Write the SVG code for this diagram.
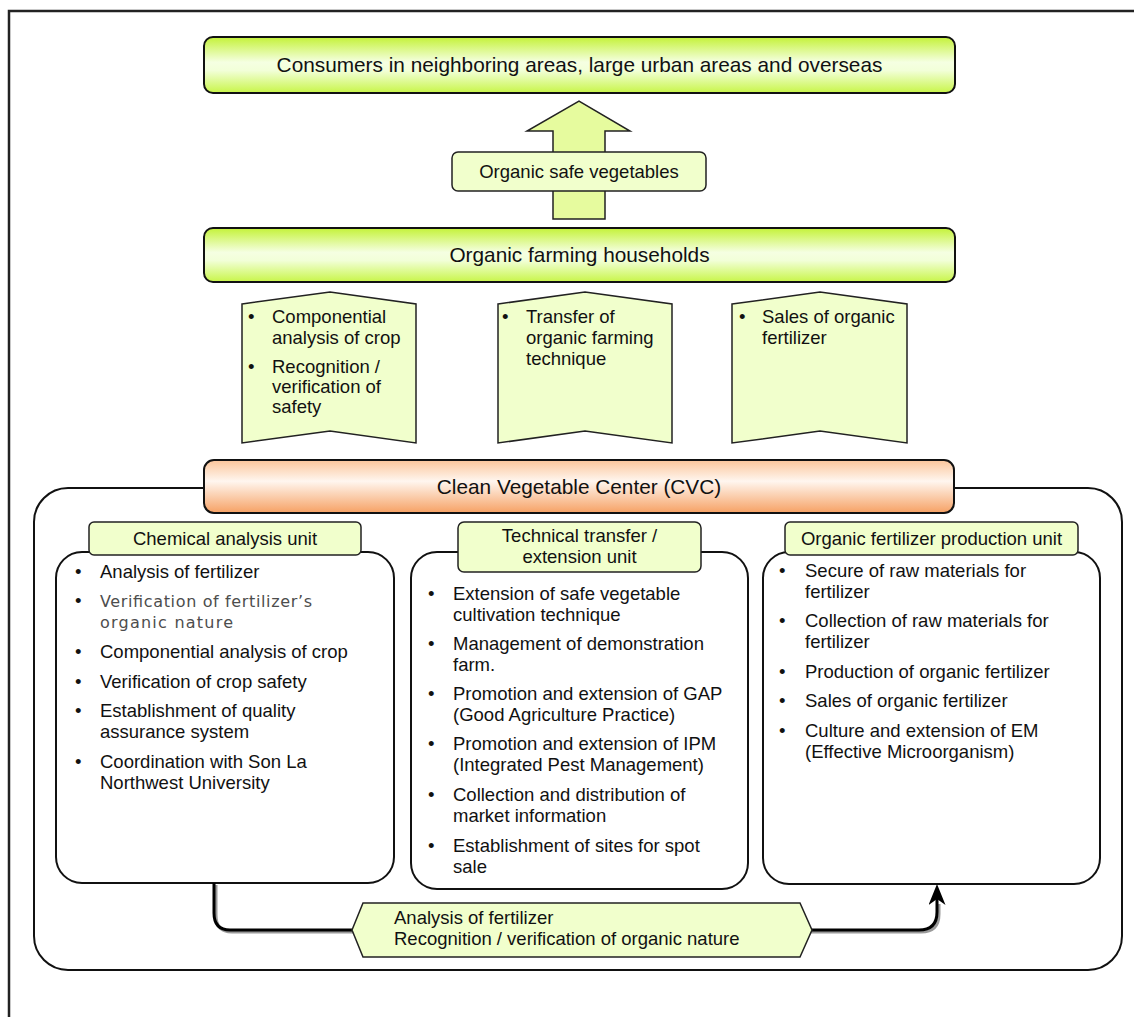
<svg xmlns="http://www.w3.org/2000/svg" width="1134" height="1017" viewBox="0 0 1134 1017">
  <defs>
    <linearGradient id="limeBand" x1="0" y1="0" x2="0" y2="1">
      <stop offset="0" stop-color="#c4f238"/>
      <stop offset="0.45" stop-color="#f5ffe2"/>
      <stop offset="0.6" stop-color="#f2ffd8"/>
      <stop offset="1" stop-color="#c8f548"/>
    </linearGradient>
    <linearGradient id="orangeBand" x1="0" y1="0" x2="0" y2="1">
      <stop offset="0" stop-color="#fbc59a"/>
      <stop offset="0.4" stop-color="#fff6ef"/>
      <stop offset="1" stop-color="#f6a164"/>
    </linearGradient>
    <marker id="arrowHead" markerUnits="userSpaceOnUse" markerWidth="21" markerHeight="17" viewBox="0 0 21 17" refX="12" refY="8.5" orient="auto">
      <path d="M21,8.5 L0,0 L6,8.5 L0,17 Z" fill="#000"/>
    </marker>
    <style>
      text { font-family: "Liberation Sans", Arial, sans-serif; fill: #111; }
      .big { font-size: 20.8px; text-anchor: middle; }
      .body { font-size: 18.5px; }
      .mid { text-anchor: middle; }
      .soft { font-family: "DejaVu Sans", sans-serif; font-size: 16px; fill: #4d4d4d; }
      .band { stroke: #111; stroke-width: 2; }
      .pale { fill: #f1ffcc; stroke: #222; stroke-width: 1.5; }
      .unit { fill: #fff; stroke: #111; stroke-width: 2; }
    </style>
  </defs>

  <!-- page frame -->
  <rect x="9" y="11" width="1140" height="1020" fill="#fff" stroke="#222" stroke-width="2.5"/>

  <!-- CVC enclosure -->
  <g id="cvc-enclosure">
    <rect x="34" y="488" width="1088" height="482" rx="34" fill="none" stroke="#111" stroke-width="2"/>
  </g>

  <g id="consumers">
    <rect class="band" x="204" y="37" width="751" height="56" rx="9" fill="url(#limeBand)"/>
    <text class="big" x="579.5" y="72">Consumers in neighboring areas, large urban areas and overseas</text>
  </g>

  <g id="product-flow">
    <path d="M553,219 L553,131 L527,131 L579,101 L630,131 L605,131 L605,219 Z" fill="#e6fb9e" stroke="#222" stroke-width="1.5"/>
    <rect class="pale" x="452" y="152" width="254" height="39" rx="6"/>
    <text class="body mid" x="579" y="178">Organic safe vegetables</text>
  </g>

  <g id="households">
    <rect class="band" x="204" y="228" width="751" height="54" rx="9" fill="url(#limeBand)"/>
    <text class="big" x="579.5" y="262">Organic farming households</text>
  </g>

  <g id="service-crop">
    <path class="pale" d="M242,304 L330,292 L416,304 L416,443 L330,431 L242,443 Z"/>
    <text class="body" x="248" y="323">•</text>
    <text class="body" x="272" y="323">Componential</text>
    <text class="body" x="272" y="344">analysis of crop</text>
    <text class="body" x="248" y="373">•</text>
    <text class="body" x="272" y="373">Recognition /</text>
    <text class="body" x="272" y="393">verification of</text>
    <text class="body" x="272" y="413">safety</text>
  </g>

  <g id="service-technique">
    <path class="pale" d="M498,304 L585,292 L672,304 L672,443 L585,431 L498,443 Z"/>
    <text class="body" x="502" y="323">•</text>
    <text class="body" x="526" y="323">Transfer of</text>
    <text class="body" x="526" y="344">organic farming</text>
    <text class="body" x="526" y="365">technique</text>
  </g>

  <g id="service-fertilizer">
    <path class="pale" d="M732,304 L820,292 L907,304 L907,443 L820,431 L732,443 Z"/>
    <text class="body" x="739" y="323">•</text>
    <text class="body" x="762" y="323">Sales of organic</text>
    <text class="body" x="762" y="344">fertilizer</text>
  </g>

  <g id="cvc">
    <rect class="band" x="204" y="460" width="750" height="53" rx="10" fill="url(#orangeBand)"/>
    <text class="big" x="579" y="494">Clean Vegetable Center (CVC)</text>
  </g>

  <g id="chemical-unit">
    <rect class="unit" x="56" y="552" width="338" height="331" rx="26"/>
    <rect class="pale" x="89" y="522" width="272" height="33" rx="5"/>
    <text class="body mid" x="225" y="545">Chemical analysis unit</text>
    <text class="body" x="75" y="578">•</text>
    <text class="body" x="100" y="578">Analysis of fertilizer</text>
    <text class="body" x="75" y="607">•</text>
    <text class="soft" x="100" y="607" textLength="212">Verification of fertilizer’s</text>
    <text class="soft" x="100" y="628" textLength="133">organic nature</text>
    <text class="body" x="75" y="658">•</text>
    <text class="body" x="100" y="658">Componential analysis of crop</text>
    <text class="body" x="75" y="688">•</text>
    <text class="body" x="100" y="688">Verification of crop safety</text>
    <text class="body" x="75" y="717">•</text>
    <text class="body" x="100" y="717">Establishment of quality</text>
    <text class="body" x="100" y="738">assurance system</text>
    <text class="body" x="75" y="768">•</text>
    <text class="body" x="100" y="768">Coordination with Son La</text>
    <text class="body" x="100" y="789">Northwest University</text>
  </g>

  <g id="technical-unit">
    <rect class="unit" x="411" y="552" width="337" height="337" rx="26"/>
    <rect class="pale" x="458" y="522" width="243" height="50" rx="6"/>
    <text class="body mid" x="579.5" y="542">Technical transfer /</text>
    <text class="body mid" x="579.5" y="563">extension unit</text>
    <text class="body" x="428" y="600">•</text>
    <text class="body" x="453" y="600">Extension of safe vegetable</text>
    <text class="body" x="453" y="621">cultivation technique</text>
    <text class="body" x="428" y="650">•</text>
    <text class="body" x="453" y="650">Management of demonstration</text>
    <text class="body" x="453" y="671">farm.</text>
    <text class="body" x="428" y="700">•</text>
    <text class="body" x="453" y="700">Promotion and extension of GAP</text>
    <text class="body" x="453" y="721">(Good Agriculture Practice)</text>
    <text class="body" x="428" y="750">•</text>
    <text class="body" x="453" y="750">Promotion and extension of IPM</text>
    <text class="body" x="453" y="771">(Integrated Pest Management)</text>
    <text class="body" x="428" y="801">•</text>
    <text class="body" x="453" y="801">Collection and distribution of</text>
    <text class="body" x="453" y="822">market information</text>
    <text class="body" x="428" y="852">•</text>
    <text class="body" x="453" y="852">Establishment of sites for spot</text>
    <text class="body" x="453" y="873">sale</text>
  </g>

  <g id="fertilizer-unit">
    <rect class="unit" x="763" y="552" width="337" height="332" rx="26"/>
    <rect class="pale" x="785" y="522" width="293" height="33" rx="5"/>
    <text class="body mid" x="931.5" y="545">Organic fertilizer production unit</text>
    <text class="body" x="779" y="577">•</text>
    <text class="body" x="805" y="577">Secure of raw materials for</text>
    <text class="body" x="805" y="598">fertilizer</text>
    <text class="body" x="779" y="627">•</text>
    <text class="body" x="805" y="627">Collection of raw materials for</text>
    <text class="body" x="805" y="648">fertilizer</text>
    <text class="body" x="779" y="678">•</text>
    <text class="body" x="805" y="678">Production of organic fertilizer</text>
    <text class="body" x="779" y="707">•</text>
    <text class="body" x="805" y="707">Sales of organic fertilizer</text>
    <text class="body" x="779" y="737">•</text>
    <text class="body" x="805" y="737">Culture and extension of EM</text>
    <text class="body" x="805" y="758">(Effective Microorganism)</text>
  </g>

  <!-- analysis link from the chemical unit to the fertilizer unit -->
  <g id="connectors">
    <path d="M216,885 V915 Q216,932 232,932 H921 Q939,932 939,914 V904" fill="none" stroke="#9a9a9a" stroke-width="3"/>
    <path d="M214,883 V913 Q214,930 230,930 H919 Q937,930 937,912 V893" fill="none" stroke="#000" stroke-width="3" marker-end="url(#arrowHead)"/>
  </g>

  <g id="analysis-link-label">
    <path class="pale" d="M352,930 L363,903 L800,903 L812,930 L800,957 L363,957 Z"/>
    <text class="body" x="394" y="924">Analysis of fertilizer</text>
    <text class="body" x="394" y="945">Recognition / verification of organic nature</text>
  </g>
</svg>
